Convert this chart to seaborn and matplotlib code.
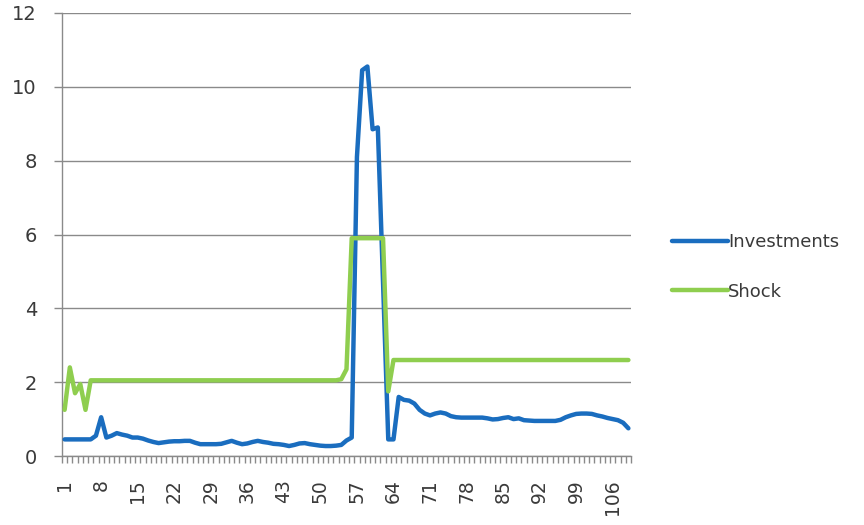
import matplotlib
matplotlib.use("Agg")
import matplotlib.pyplot as plt
import seaborn as sns
import pandas as pd
import numpy as np
from matplotlib.ticker import FixedLocator

categories = list(range(1, 110))

investments = [
    0.45, 0.45, 0.45, 0.45, 0.45, 0.45, 0.55, 1.05, 0.50, 0.55,
    0.62, 0.58, 0.55, 0.50, 0.50, 0.47, 0.42, 0.38,
    0.35, 0.37, 0.39, 0.40, 0.40, 0.41, 0.41, 0.36, 0.32, 0.32,
    0.32, 0.32, 0.33, 0.37, 0.41, 0.36, 0.32, 0.34, 0.38, 0.41,
    0.38, 0.36, 0.33, 0.32, 0.30, 0.27, 0.30, 0.34, 0.35, 0.32,
    0.30, 0.28, 0.27, 0.27, 0.28, 0.30, 0.42,
    0.50, 8.10, 10.45, 10.55, 8.85, 8.90, 4.70, 0.45, 0.45, 1.60,
    1.52, 1.50, 1.42, 1.25, 1.15, 1.10, 1.15, 1.18, 1.15, 1.08,
    1.05, 1.04, 1.04, 1.04, 1.04, 1.04, 1.02, 0.99, 1.00, 1.03,
    1.05, 1.00, 1.02, 0.97, 0.96, 0.95, 0.95, 0.95, 0.95, 0.95,
    0.98, 1.05, 1.10, 1.14, 1.15, 1.15, 1.14, 1.10, 1.07, 1.03,
    1.00, 0.97, 0.90, 0.75,
]

shock = (
    [1.25, 2.40, 1.70, 1.95, 1.25, 2.05]
    + [2.05] * 47
    + [2.08, 2.35]
    + [5.90] * 7
    + [1.75]
    + [2.60] * 46
)

y_ticks = [0, 2, 4, 6, 8, 10, 12]
x_tick_labels = [1, 8, 15, 22, 29, 36, 43, 50, 57, 64, 71, 78, 85, 92, 99, 106]

df = pd.DataFrame({
    "x": categories * 2,
    "value": investments + shock,
    "series": ["Investments"] * len(categories) + ["Shock"] * len(categories),
})

sns.set_style("white")
plt.rcParams["font.family"] = ["DejaVu Sans"]

fig = plt.figure(figsize=(8.64, 5.25), dpi=100)
ax = fig.add_axes([62 / 864, 1 - 456 / 525, (631 - 62) / 864, (456 - 13) / 525])

palette = {"Investments": "#1a6dbf", "Shock": "#8fce4f"}
sns.lineplot(data=df, x="x", y="value", hue="series", palette=palette,
             linewidth=3.2, ax=ax, legend=True, zorder=3)

n = len(categories)
ax.set_xlim(0.5, n + 0.5)
ax.set_ylim(0, 12)
ax.set_xlabel("")
ax.set_ylabel("")

grid_c = "#8a8a8a"
text_c = "#3a3a3a"
ax.set_yticks(y_ticks)
ax.yaxis.grid(True, color=grid_c, linewidth=1.0)
ax.xaxis.grid(False)
for s in ["top", "right"]:
    ax.spines[s].set_visible(False)
for s in ["left", "bottom"]:
    ax.spines[s].set_color(grid_c)
    ax.spines[s].set_linewidth(1.0)

ax.set_xticks(x_tick_labels)
ax.set_xticklabels([str(v) for v in x_tick_labels], rotation=90)
ax.xaxis.set_minor_locator(FixedLocator(np.arange(0.5, n + 1, 1.0)))
ax.tick_params(axis="x", which="major", length=0, pad=17, labelsize=13.5, labelcolor=text_c)
ax.tick_params(axis="x", which="minor", length=5, color=grid_c, width=1, bottom=True)
ax.tick_params(axis="y", which="major", length=6, color=grid_c, width=1, left=True,
               labelsize=14, labelcolor=text_c, pad=12)

handles, labels = ax.get_legend_handles_labels()
ax.legend(handles, labels, loc="center left", bbox_to_anchor=(672 / 864, 1 - 267 / 525),
          bbox_transform=fig.transFigure, frameon=False, fontsize=13,
          handlelength=3.1, handletextpad=0.0, labelspacing=1.75, labelcolor=text_c,
          borderpad=0, borderaxespad=0)

fig.savefig("out.png", dpi=100)
